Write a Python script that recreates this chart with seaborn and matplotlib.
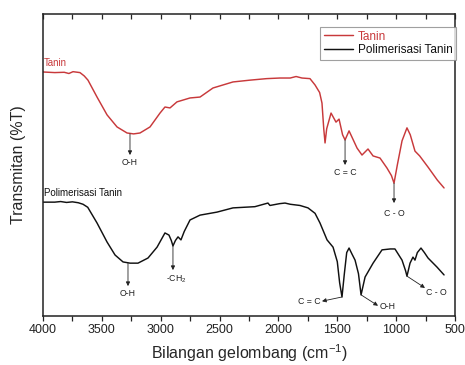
import numpy as np
import pandas as pd
import matplotlib
matplotlib.use("Agg")
import matplotlib.pyplot as plt
from matplotlib.ticker import MultipleLocator
import seaborn as sns

# ---- data (transmittance in arbitrary offset units) ----
tanin_wn = [4000, 3900, 3820, 3780, 3745, 3686, 3650, 3618, 3541, 3456, 3371, 3286,
            3230, 3176, 3091, 3006, 2964, 2921, 2862, 2751, 2666, 2556, 2386, 2241,
            2100, 1987, 1900, 1850, 1800, 1732, 1689, 1650, 1630, 1615, 1604, 1590,
            1553, 1511, 1485, 1455, 1434, 1400, 1332, 1290, 1239, 1196, 1137, 1078,
            1040, 1018, 990, 950, 908, 880, 840, 800, 729, 650, 593]
tanin_tr = [80.8, 80.6, 80.7, 80.3, 80.9, 80.6, 79.5, 78.1, 72.5, 66.6, 62.6, 60.6,
            60.3, 60.6, 62.6, 67.2, 69.2, 68.9, 70.9, 72.2, 72.5, 75.5, 77.5, 78.1,
            78.6, 78.8, 78.8, 79.3, 78.8, 78.6, 76.5, 74.0, 70.5, 62.0, 57.3, 62.0,
            67.2, 64.2, 65.2, 60.0, 58.3, 61.3, 55.6, 53.3, 55.3, 53.0, 52.3, 49.0,
            46.5, 44.0, 50.0, 58.0, 62.3, 60.0, 54.6, 53.0, 49.3, 45.0, 42.4]

poli_wn = [4000, 3900, 3850, 3800, 3750, 3700, 3660, 3620, 3541, 3456, 3388, 3320,
           3260, 3193, 3108, 3031, 2964, 2930, 2910, 2896, 2875, 2853, 2828, 2800,
           2751, 2666, 2522, 2386, 2200, 2089, 2072, 1990, 1944, 1900, 1817, 1749,
           1689, 1647, 1587, 1536, 1500, 1480, 1460, 1440, 1420, 1400, 1375, 1349,
           1320, 1298, 1264, 1196, 1120, 1050, 1010, 950, 920, 908, 882, 857, 840,
           820, 789, 760, 729, 653, 593]
poli_tr = [37.7, 37.7, 37.9, 37.6, 37.8, 37.5, 37.0, 36.0, 30.8, 24.5, 20.2, 17.9,
           17.5, 17.5, 19.2, 22.8, 27.5, 26.8, 25.0, 23.2, 25.0, 26.2, 25.2, 28.0,
           31.8, 33.4, 34.4, 35.8, 36.2, 37.4, 36.6, 37.2, 37.4, 37.0, 36.6, 35.8,
           34.0, 30.8, 25.2, 22.8, 18.0, 11.0, 6.3, 14.0, 21.0, 22.5, 20.5, 18.5,
           14.0, 7.0, 12.9, 17.5, 21.9, 22.2, 22.2, 18.5, 15.0, 13.2, 17.5, 19.5,
           18.5, 21.0, 22.5, 21.0, 19.2, 16.2, 13.6]

series_names = ["Tanin", "Polimerisasi Tanin"]
x_ticks = [4000, 3500, 3000, 2500, 2000, 1500, 1000, 500]

RED = "#c8393b"

sns.set_theme(style="ticks")
plt.rcParams["font.family"] = ["Liberation Sans", "DejaVu Sans"]
plt.rcParams["mathtext.default"] = "regular"

fig = plt.figure(figsize=(4.65, 3.65), dpi=100)
ax = fig.add_axes([43 / 465, 1 - 316 / 365, 412 / 465, 302 / 365])

df1 = pd.DataFrame({"wn": tanin_wn, "tr": tanin_tr})
df2 = pd.DataFrame({"wn": poli_wn, "tr": poli_tr})
sns.lineplot(data=df1, x="wn", y="tr", ax=ax, color=RED, lw=1.05, sort=False,
             estimator=None, label=series_names[0])
sns.lineplot(data=df2, x="wn", y="tr", ax=ax, color="#111111", lw=1.05, sort=False,
             estimator=None, label=series_names[1])

ax.set_xlim(4000, 500)
ax.set_ylim(0, 100)
ax.set_xticks(x_ticks)
ax.xaxis.set_minor_locator(MultipleLocator(250))
ax.tick_params(axis="x", which="both", direction="out", length=3.5, width=0.9,
               labelsize=9, pad=2, colors="#222222")
ax.set_yticks([])
for s in ax.spines.values():
    s.set_color("#222222")
    s.set_linewidth(1.1)

secax = ax.secondary_xaxis("top")
secax.set_xticks(x_ticks)
secax.xaxis.set_minor_locator(MultipleLocator(250))
secax.tick_params(which="both", direction="in", length=3.5, width=0.9, labeltop=False)
secax.spines["top"].set_visible(False)

ax.set_xlabel("Bilangan gelombang (cm$^{-1}$)", fontsize=11.5, labelpad=5)
ax.set_ylabel("Transmitan (%T)", fontsize=11.5, labelpad=12)

leg = ax.legend(loc="upper right", bbox_to_anchor=(1.003, 0.957), fontsize=8.5,
                frameon=True, fancybox=False, edgecolor="#888888", handlelength=2.5,
                borderpad=0.3, labelspacing=0.15, handletextpad=0.4, borderaxespad=0)
leg.get_frame().set_linewidth(0.8)
for t, c in zip(leg.get_texts(), [RED, "#111111"]):
    t.set_color(c)

ax.text(3990, 82.2, "Tanin", color=RED, fontsize=7, ha="left", va="bottom")
ax.text(3990, 39.2, "Polimerisasi Tanin", color="#111111", fontsize=7, ha="left",
        va="bottom")

afs = 6.3
acol = "#222222"
def arrow(tail, head):
    ax.annotate("", xy=head, xytext=tail,
                arrowprops=dict(arrowstyle="-|>", color=acol, lw=0.6,
                                mutation_scale=6, shrinkA=0, shrinkB=0))

# Tanin annotations
arrow((3261, 60.3), (3261, 53.3))
ax.text(3261, 50.7, "O-H", fontsize=afs, ha="center", va="center", color=acol)
arrow((1434, 58.3), (1434, 50.0))
ax.text(1434, 47.6, "C = C", fontsize=afs, ha="center", va="center", color=acol)
arrow((1018, 44.0), (1018, 37.4))
ax.text(1018, 34.1, "C - O", fontsize=afs, ha="center", va="center", color=acol)

# Polimerisasi annotations
arrow((3278, 17.5), (3278, 9.9))
ax.text(3278, 7.6, "O-H", fontsize=afs, ha="center", va="center", color=acol)
arrow((2896, 23.2), (2896, 15.2))
ax.text(2870, 12.3, "-CH$_2$", fontsize=afs, ha="center", va="center", color=acol)
arrow((1460, 6.3), (1630, 4.9))
ax.text(1740, 4.7, "C = C", fontsize=afs, ha="center", va="center", color=acol)
arrow((1298, 7.0), (1154, 3.4))
ax.text(1070, 3.2, "O-H", fontsize=afs, ha="center", va="center", color=acol)
arrow((908, 13.2), (755, 9.3))
ax.text(661, 7.9, "C - O", fontsize=afs, ha="center", va="center", color=acol)

fig.savefig("out.png", dpi=100)
